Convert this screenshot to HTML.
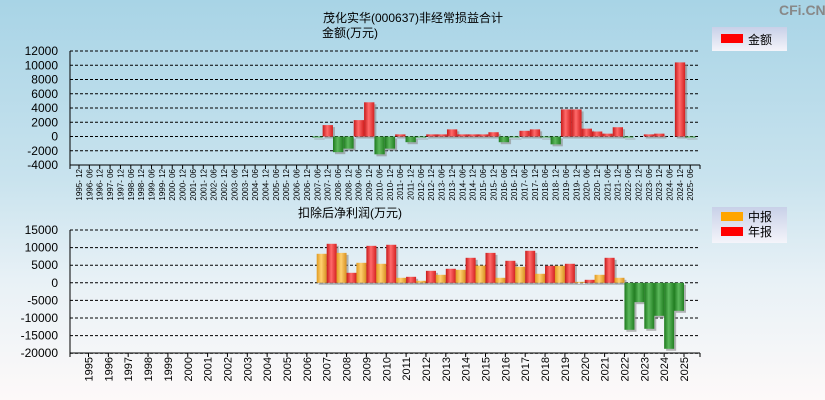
<!DOCTYPE html>
<html><head><meta charset="utf-8"><style>
html,body{margin:0;padding:0;width:825px;height:400px;overflow:hidden}
body{background:linear-gradient(to bottom,#a8d4e6 0%,#c9e3ee 45%,#e8f1f6 70%,#fdf9f9 100%);font-family:"Liberation Sans","Noto Sans CJK SC",sans-serif}
svg{position:absolute;left:0;top:0}
</style></head><body>
<svg id="c" width="825" height="400" font-family="Liberation Sans, Noto Sans CJK SC, sans-serif">
<defs>
<linearGradient id="gr" x1="0" x2="1"><stop offset="0" stop-color="#c81a1a"/><stop offset="0.45" stop-color="#ff6a6a"/><stop offset="1" stop-color="#d42020"/></linearGradient>
<linearGradient id="gg" x1="0" x2="1"><stop offset="0" stop-color="#1e7a1e"/><stop offset="0.45" stop-color="#5cb85c"/><stop offset="1" stop-color="#227f22"/></linearGradient>
<linearGradient id="go" x1="0" x2="1"><stop offset="0" stop-color="#e09a20"/><stop offset="0.45" stop-color="#ffd070"/><stop offset="1" stop-color="#d89020"/></linearGradient>
<linearGradient id="lg" x1="0" y1="0" x2="0" y2="1"><stop offset="0" stop-color="#c8d0e8"/><stop offset="1" stop-color="#f4f4fa"/></linearGradient>
</defs>
<text x="323" y="22" font-size="12">茂化实华(000637)非经常损益合计</text>
<text x="322" y="37" font-size="12">金额(万元)</text>
<text x="779" y="15" font-size="14" font-weight="bold" fill="#888">CFi.CN</text>
<g><rect x="712" y="27" width="75" height="24" fill="url(#lg)"/><rect x="721" y="34" width="22" height="9" fill="#f00"/><text x="748" y="44" font-size="12">金额</text></g>
<text x="298" y="217" font-size="12">扣除后净利润(万元)</text>
<g><rect x="712" y="207" width="75" height="36" fill="url(#lg)"/><rect x="721" y="212" width="22" height="9" fill="#ffa500"/><text x="748" y="221" font-size="12">中报</text><rect x="721" y="227" width="22" height="9" fill="#f00"/><text x="748" y="236" font-size="12">年报</text></g>
<g id="top"></g><g id="bot"></g>
</svg>
<script>
const topCats=[];for(let y=1995;y<=2025;y++){if(y>1995)topCats.push(y+'-06');if(y<2025)topCats.push(y+'-12');}
topCats.sort();
const topVals=[0,0,0,0,0,0,0,0,0,0,0,0,0,0,0,0,0,0,0,0,0,0,0,-100,1600,-2200,-1700,2300,4800,-2500,-1700,300,-800,-100,300,300,1000,300,300,300,600,-800,-100,800,1000,-50,-1100,3800,3800,1100,700,400,1300,-100,0,300,400,0,10400,-50];
const topTicks=[12000,10000,8000,6000,4000,2000,0,-2000,-4000];
const botCats=[];for(let y=1995;y<=2025;y++)botCats.push(String(y));
const midVals=[null,null,null,null,null,null,null,null,null,null,null,null,8240,8500,5680,5400,1420,570,2270,3690,4900,1420,4550,2560,4830,280,2270,1420,-5500,-9380,-7950];
const annVals=[null,null,null,null,null,null,null,null,null,null,null,null,11080,2840,10500,10800,1700,3400,3980,7100,8500,6250,9090,4830,5400,850,7100,-13350,-13070,-18750,null];
const botTicks=[15000,10000,5000,0,-5000,-10000,-15000,-20000];
const NS='http://www.w3.org/2000/svg';
function mk(p,t,a){const e=document.createElementNS(NS,t);for(const k in a)e.setAttribute(k,a[k]);p.appendChild(e);return e;}
// top chart
const T=document.getElementById('top');
const tY=v=>51+(12000-v)*(114/16000);
const tX=i=>79+i*10.36;
topTicks.forEach(v=>{
 const l=mk(T,'line',{x1:70,x2:700,y1:tY(v),y2:tY(v),stroke:'#000','stroke-dasharray':'3,2','stroke-width':1});
 
 const t=mk(T,'text',{x:58,y:tY(v)+4,'font-size':12,'text-anchor':'end'});t.textContent=v;
 
});
topVals.forEach((v,i)=>{
 if(!v)return;const x=tX(i)-5,y0=tY(0),y1=tY(v);const top=Math.min(y0,y1),h=Math.max(Math.abs(y1-y0),1);
 mk(T,'rect',{x:x+2,y:top+2,width:10.3,height:h,fill:'#888','opacity':0.6});
 const r=mk(T,'rect',{x:x,y:top,width:10.3,height:h,fill:v>0?'url(#gr)':'url(#gg)'});
 
});
topCats.forEach((c,i)=>{
 mk(T,'line',{x1:tX(i),x2:tX(i),y1:165,y2:169,stroke:'#000'});
 const t=mk(T,'text',{x:0,y:0,'font-size':8,'text-anchor':'end',transform:`translate(${tX(i)+3},169) rotate(-90)`});t.textContent=c.replace('-','- ');
 
});
mk(T,'line',{x1:70,x2:70,y1:51,y2:169,stroke:'#000'});
mk(T,'line',{x1:70,x2:700,y1:165,y2:165,stroke:'#000'});
mk(T,'line',{x1:700,x2:700,y1:165,y2:169,stroke:'#000'});
// bottom chart
const B=document.getElementById('bot');
const bY=v=>230+(15000-v)*(123.2/35000);
const bX=i=>88.5+i*19.85;
botTicks.forEach(v=>{
 const l=mk(B,'line',{x1:70,x2:700,y1:bY(v),y2:bY(v),stroke:'#000','stroke-dasharray':'3,2','stroke-width':1});
 
 const t=mk(B,'text',{x:58,y:bY(v)+4,'font-size':12,'text-anchor':'end'});t.textContent=v;
 
});
function bar(v,x,pos,name){
 if(v==null)return;const y0=bY(0),y1=bY(v);const top=Math.min(y0,y1),h=Math.max(Math.abs(y1-y0),1);
 mk(B,'rect',{x:x+2,y:top+2,width:10,height:h,fill:'#888','opacity':0.6});
 const r=mk(B,'rect',{x:x,y:top,width:10,height:h,fill:v<0?'url(#gg)':pos});
 
}
botCats.forEach((c,i)=>{
 bar(midVals[i],bX(i)-10,'url(#go)','mid-bar-'+c);
 bar(annVals[i],bX(i),'url(#gr)','annual-bar-'+c);
});
botCats.forEach((c,i)=>{
 mk(B,'line',{x1:bX(i),x2:bX(i),y1:353,y2:357,stroke:'#000'});
 const t=mk(B,'text',{x:0,y:0,'font-size':11,'text-anchor':'end',transform:`translate(${bX(i)+4},357) rotate(-90)`});t.textContent=c;
 
});
mk(B,'line',{x1:70,x2:70,y1:230,y2:357,stroke:'#000'});
mk(B,'line',{x1:70,x2:700,y1:353,y2:353,stroke:'#000'});
mk(B,'line',{x1:700,x2:700,y1:353,y2:357,stroke:'#000'});
</script>
</body></html>
